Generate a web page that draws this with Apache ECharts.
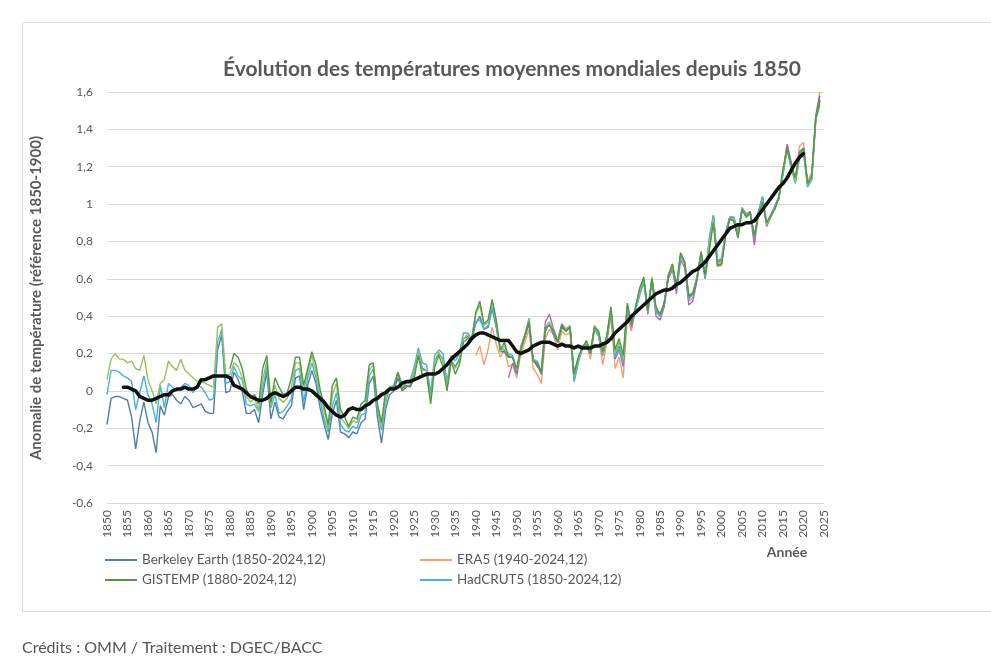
<!DOCTYPE html>
<html><head><meta charset="utf-8">
<script src="https://cdn.jsdelivr.net/npm/echarts@6/dist/echarts.min.js"></script>
<style>html,body{margin:0;padding:0;background:#fff;}#c{width:991px;height:665px;}</style>
</head><body><div id="c"></div>
<script>
// x-axis categories and tick labels
const years = []; for (let y = 1850; y <= 2025; y++) years.push(String(y));
const yTicks = [-0.6, -0.4, -0.2, 0, 0.2, 0.4, 0.6, 0.8, 1.0, 1.2, 1.4, 1.6];

// Berkeley Earth 1850-2024
const berkeley = [
-0.18,-0.04,-0.03,-0.03,-0.04,-0.05,-0.14,-0.31,-0.16,-0.06,
-0.17,-0.22,-0.33,-0.08,-0.13,-0.03,-0.02,-0.05,-0.07,-0.03,
-0.05,-0.09,-0.08,-0.07,-0.11,-0.12,-0.12,0.22,0.30,-0.01,
0.00,0.10,0.06,0.00,-0.12,-0.12,-0.10,-0.17,-0.02,0.10,
-0.15,-0.06,-0.14,-0.15,-0.11,-0.08,0.07,0.08,-0.10,0.03,
0.11,0.04,-0.09,-0.18,-0.26,-0.12,-0.05,-0.22,-0.23,-0.25,
-0.22,-0.23,-0.17,-0.15,0.04,0.08,-0.14,-0.28,-0.10,-0.02,
0.00,0.07,0.00,0.02,0.03,0.10,0.20,0.12,0.11,-0.04,
0.16,0.20,0.17,0.02,0.16,0.13,0.17,0.28,0.29,0.27,
0.36,0.40,0.33,0.34,0.44,0.34,0.21,0.21,0.18,0.18,
0.10,0.23,0.29,0.37,0.16,0.14,0.09,0.32,0.36,0.30,
0.26,0.34,0.32,0.34,0.06,0.16,0.23,0.25,0.20,0.34,
0.30,0.19,0.28,0.43,0.19,0.24,0.16,0.45,0.36,0.44,
0.52,0.59,0.43,0.60,0.43,0.41,0.47,0.62,0.67,0.55,
0.73,0.69,0.50,0.52,0.61,0.74,0.62,0.80,0.94,0.69,
0.70,0.85,0.93,0.93,0.84,0.98,0.94,0.96,0.82,0.96,
1.04,0.90,0.94,0.99,1.04,1.17,1.30,1.20,1.12,1.26,
1.29,1.11,1.14,1.47,1.58];

// HadCRUT5 1850-2024
const hadcrut = [
-0.02,0.11,0.11,0.10,0.08,0.07,0.05,-0.10,-0.01,0.08,
-0.02,-0.07,-0.17,0.03,-0.09,0.04,0.02,0.00,0.02,0.04,
0.03,-0.01,0.03,0.02,-0.01,-0.05,-0.04,0.26,0.33,0.04,
0.05,0.13,0.08,0.06,-0.07,-0.08,-0.07,-0.11,0.01,0.13,
-0.09,-0.02,-0.12,-0.11,-0.08,-0.04,0.11,0.12,-0.06,0.07,
0.15,0.07,-0.05,-0.15,-0.22,-0.08,-0.01,-0.18,-0.21,-0.22,
-0.19,-0.20,-0.13,-0.12,0.08,0.12,-0.10,-0.21,-0.07,0.02,
0.03,0.10,0.04,0.05,0.06,0.13,0.23,0.15,0.14,-0.01,
0.19,0.22,0.20,0.05,0.19,0.16,0.20,0.31,0.31,0.28,
0.37,0.38,0.33,0.35,0.45,0.35,0.22,0.22,0.20,0.19,
0.11,0.24,0.30,0.39,0.17,0.16,0.10,0.33,0.36,0.31,
0.27,0.35,0.33,0.35,0.05,0.15,0.24,0.24,0.21,0.34,
0.29,0.19,0.29,0.43,0.18,0.23,0.15,0.45,0.36,0.43,
0.51,0.58,0.42,0.60,0.42,0.40,0.47,0.62,0.66,0.55,
0.72,0.68,0.49,0.52,0.60,0.73,0.61,0.82,0.94,0.70,
0.71,0.85,0.93,0.93,0.85,0.98,0.94,0.95,0.82,0.95,
1.04,0.89,0.93,0.98,1.03,1.16,1.29,1.19,1.11,1.24,
1.27,1.09,1.13,1.45,1.53];

// NOAAGlobalTemp 1850-2024
const noaa = [
0.06,0.17,0.20,0.17,0.17,0.15,0.16,0.12,0.11,0.19,
0.06,0.00,-0.07,0.04,0.06,0.16,0.13,0.11,0.17,0.11,
0.09,0.07,0.05,0.05,0.04,0.03,0.02,0.34,0.36,0.08,
0.09,0.15,0.13,0.07,-0.03,-0.06,-0.04,-0.10,0.06,0.16,
-0.08,0.03,-0.04,-0.06,-0.04,0.02,0.15,0.15,0.00,0.10,
0.19,0.10,-0.02,-0.11,-0.20,-0.02,0.04,-0.14,-0.17,-0.20,
-0.16,-0.17,-0.10,-0.08,0.11,0.14,-0.08,-0.19,-0.04,0.02,
0.02,0.10,0.02,0.04,0.04,0.10,0.21,0.11,0.11,-0.05,
0.16,0.21,0.16,0.02,0.17,0.12,0.16,0.28,0.30,0.28,
0.41,0.46,0.35,0.37,0.48,0.37,0.21,0.24,0.19,0.18,
0.11,0.23,0.30,0.38,0.16,0.15,0.10,0.34,0.37,0.32,
0.27,0.35,0.33,0.35,0.08,0.17,0.23,0.26,0.21,0.35,
0.31,0.20,0.29,0.44,0.20,0.26,0.17,0.46,0.36,0.44,
0.53,0.60,0.43,0.60,0.44,0.41,0.47,0.61,0.67,0.56,
0.73,0.69,0.51,0.53,0.61,0.74,0.62,0.79,0.92,0.68,
0.69,0.84,0.92,0.92,0.83,0.97,0.93,0.95,0.83,0.95,
1.02,0.89,0.93,0.98,1.04,1.18,1.29,1.20,1.12,1.26,
1.29,1.10,1.14,1.46,1.55];

// GISTEMP 1880-2024
const gistemp = [
0.12,0.20,0.18,0.12,0.01,-0.04,-0.02,-0.07,0.12,0.19,
-0.06,0.07,0.02,-0.02,-0.01,0.07,0.18,0.18,0.03,0.12,
0.21,0.14,0.01,-0.08,-0.18,0.03,0.07,-0.10,-0.14,-0.19,
-0.14,-0.15,-0.07,-0.05,0.14,0.15,-0.07,-0.17,0.00,0.02,
0.02,0.10,0.01,0.03,0.02,0.07,0.19,0.08,0.09,-0.07,
0.13,0.19,0.13,0.00,0.16,0.09,0.14,0.26,0.28,0.27,
0.42,0.48,0.36,0.38,0.49,0.38,0.22,0.26,0.18,0.18,
0.12,0.22,0.30,0.37,0.16,0.15,0.10,0.34,0.35,0.32,
0.26,0.35,0.32,0.34,0.09,0.18,0.23,0.27,0.21,0.34,
0.32,0.21,0.30,0.45,0.22,0.28,0.19,0.47,0.36,0.45,
0.55,0.61,0.43,0.60,0.45,0.41,0.47,0.61,0.68,0.56,
0.74,0.69,0.51,0.52,0.60,0.74,0.62,0.75,0.90,0.67,
0.68,0.83,0.92,0.91,0.82,0.97,0.93,0.95,0.83,0.94,
1.01,0.90,0.94,0.97,1.04,1.19,1.30,1.21,1.14,1.27,
1.30,1.11,1.15,1.46,1.55];

// ERA5 1940-2024
const era5 = [
0.19,0.24,0.14,0.22,0.34,0.25,0.18,0.22,0.13,0.14,
0.07,0.20,0.26,0.33,0.12,0.09,0.04,0.28,0.33,0.30,
0.22,0.32,0.30,0.31,0.05,0.15,0.22,0.25,0.17,0.33,
0.29,0.14,0.26,0.40,0.12,0.18,0.07,0.40,0.32,0.44,
0.55,0.60,0.42,0.61,0.43,0.40,0.46,0.62,0.68,0.55,
0.72,0.68,0.48,0.50,0.60,0.75,0.62,0.78,0.94,0.67,
0.67,0.84,0.93,0.92,0.83,0.98,0.95,0.96,0.81,0.96,
1.03,0.89,0.94,0.98,1.04,1.18,1.32,1.22,1.13,1.31,
1.33,1.12,1.17,1.48,1.60];

// JRA-3Q 1948-2024
const jra = [
0.07,0.15,
0.09,0.22,0.29,0.36,0.17,0.13,0.11,0.37,0.41,0.33,
0.27,0.36,0.33,0.35,0.10,0.17,0.24,0.25,0.20,0.35,
0.31,0.20,0.28,0.43,0.17,0.22,0.13,0.44,0.34,0.43,
0.52,0.60,0.41,0.59,0.40,0.38,0.45,0.60,0.65,0.52,
0.70,0.66,0.46,0.48,0.59,0.72,0.60,0.76,0.93,0.67,
0.68,0.84,0.92,0.91,0.82,0.97,0.94,0.95,0.78,0.95,
1.02,0.88,0.93,0.98,1.03,1.16,1.32,1.22,1.12,1.28,
1.30,1.10,1.13,1.46,1.56];

// running mean (black) 1854-2020
const runMean = [
0.02,0.02,0.01,0.00,-0.03,-0.04,
-0.05,-0.05,-0.04,-0.03,-0.02,-0.02,0.00,0.01,0.01,0.02,
0.01,0.01,0.02,0.06,0.06,0.07,0.08,0.08,0.08,0.08,
0.07,0.03,0.02,0.01,-0.01,-0.03,-0.04,-0.05,-0.05,-0.04,
-0.02,-0.01,-0.02,-0.03,-0.02,0.00,0.02,0.02,0.01,0.01,
0.00,-0.02,-0.04,-0.06,-0.09,-0.11,-0.13,-0.14,-0.13,-0.10,
-0.09,-0.10,-0.10,-0.08,-0.07,-0.05,-0.04,-0.02,-0.01,0.01,
0.01,0.02,0.04,0.05,0.05,0.06,0.07,0.08,0.09,0.09,
0.09,0.10,0.12,0.14,0.17,0.19,0.21,0.23,0.25,0.28,
0.30,0.31,0.31,0.30,0.29,0.28,0.27,0.27,0.27,0.24,
0.21,0.20,0.21,0.22,0.24,0.25,0.26,0.26,0.26,0.25,
0.24,0.25,0.24,0.24,0.23,0.24,0.23,0.23,0.23,0.24,
0.24,0.25,0.26,0.28,0.31,0.33,0.35,0.37,0.40,0.42,
0.44,0.46,0.48,0.50,0.52,0.53,0.54,0.54,0.55,0.57,
0.58,0.60,0.62,0.64,0.65,0.67,0.69,0.72,0.75,0.78,
0.81,0.84,0.87,0.88,0.89,0.89,0.90,0.90,0.91,0.94,
0.97,1.00,1.03,1.06,1.09,1.11,1.14,1.18,1.22,1.25,
1.27];

const names = {
  be: 'Berkeley Earth (1850-2024,12)',
  er: 'ERA5 (1940-2024,12)',
  gi: 'GISTEMP (1880-2024,12)',
  hc: 'HadCRUT5 (1850-2024,12)'
};

function pairs(arr, start) { return arr.map((v, i) => [String(start + i), v]); }
const FONT = 'Lato, "Open Sans", sans-serif';
const GRAY = '#595959';

function lineSeries(name, arr, start, color, z) {
  return { name, type: 'line', data: pairs(arr, start), showSymbol: false, symbol: 'none',
    lineStyle: { color, width: 1.4 }, itemStyle: { color }, z, animation: false };
}

const chart = echarts.init(document.getElementById('c'));
const legendBase = { icon: 'rect', itemWidth: 32, itemHeight: 2, itemGap: 6,
  textStyle: { color: GRAY, fontSize: 13.5, fontFamily: FONT }, selectedMode: false };
chart.setOption({
  backgroundColor: '#fff',
  animation: false,
  title: { text: 'Évolution des températures moyennes mondiales depuis 1850', left: 507, top: 54,
    textAlign: 'center',
    textStyle: { fontFamily: FONT, fontWeight: 'bold', fontSize: 21, color: GRAY } },
  grid: { left: 107, right: 167, top: 92, bottom: 162 },
  xAxis: { type: 'category', data: years, boundaryGap: false,
    axisLine: { show: false }, axisTick: { show: false },
    axisLabel: { rotate: 90, interval: 4, margin: 7, color: GRAY, fontSize: 12, fontFamily: FONT },
    splitLine: { show: false } },
  yAxis: { type: 'value', min: yTicks[0], max: yTicks[yTicks.length - 1], interval: 0.2,
    axisLine: { show: false }, axisTick: { show: false },
    axisLabel: { margin: 14, color: GRAY, fontSize: 12, fontFamily: FONT,
      formatter: v => String(Math.round(v * 10) / 10).replace('.', ',') },
    splitLine: { lineStyle: { color: '#d9d9d9', width: 1 } } },
  legend: [
    Object.assign({ data: [names.be], left: 100, top: 548 }, legendBase),
    Object.assign({ data: [names.er], left: 415, top: 548 }, legendBase),
    Object.assign({ data: [names.gi], left: 100, top: 568 }, legendBase),
    Object.assign({ data: [names.hc], left: 415, top: 568 }, legendBase)
  ],
  graphic: [
    { type: 'rect', shape: { x: 22.5, y: 22.5, width: 985, height: 589 },
      style: { fill: 'none', stroke: '#dcdcdc', lineWidth: 1 }, silent: true },
    { type: 'text', x: 36, y: 298, rotation: Math.PI / 2,
      style: { text: 'Anomalie de température (référence 1850-1900)', fill: GRAY,
        font: 'bold 15px ' + FONT, align: 'center', verticalAlign: 'middle' } },
    { type: 'text', x: 787, y: 552,
      style: { text: 'Année', fill: GRAY, font: 'bold 14px ' + FONT, align: 'center', verticalAlign: 'middle' } },
    { type: 'text', x: 22, y: 648,
      style: { text: 'Crédits : OMM / Traitement : DGEC/BACC', fill: '#555555',
        font: '16px ' + FONT, align: 'left', verticalAlign: 'middle' } }
  ],
  series: [
    lineSeries(names.er, era5, 1940, '#f3a06c', 2),
    lineSeries('JRA-3Q', jra, 1948, '#b163c6', 3),
    lineSeries(names.be, berkeley, 1850, '#4f7fa3', 4),
    lineSeries(names.hc, hadcrut, 1850, '#45b3e0', 5),
    lineSeries('NOAAGlobalTemp', noaa, 1850, '#96c457', 6),
    lineSeries(names.gi, gistemp, 1880, '#4f9845', 7),
    { name: 'Moyenne', type: 'line', data: pairs(runMean, 1854), showSymbol: false, symbol: 'none',
      lineStyle: { color: '#111', width: 3.5, join: 'round', cap: 'round' }, z: 10 }
  ]
});
</script></body></html>
